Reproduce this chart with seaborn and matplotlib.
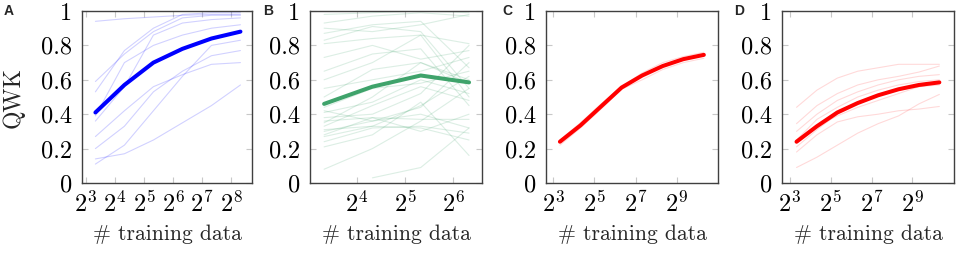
#!/usr/bin/env python3

import matplotlib
matplotlib.use('Agg')
import matplotlib.pyplot as plt
import matplotlib.ticker as mticker
import numpy as np
import pandas as pd
import seaborn as sns

SET_DPI = 100
FIGSIZE = (9.57, 2.54)

# training set sizes
X_AB = [10, 20, 40, 80, 160, 320]
X_B = [10, 20, 40, 80]
X_CD = [10, 20, 40, 80, 160, 320, 640, 1280]

# panel A
MEAN_A = [0.41, 0.57, 0.70, 0.78, 0.84, 0.88]
RUNS_A = [
    [0.94, 0.955, 0.965, 0.975, 0.98, 0.98],
    [0.59, 0.75, 0.88, 0.96, 0.975, 0.975],
    [0.53, 0.77, 0.90, 0.98, 0.99, 0.99],
    [0.39, 0.70, 0.80, 0.86, 0.90, 0.92],
    [0.36, 0.56, 0.86, 0.93, 0.95, 0.96],
    [0.27, 0.42, 0.56, 0.63, 0.69, 0.70],
    [0.20, 0.33, 0.53, 0.65, 0.74, 0.77],
    [0.14, 0.17, 0.25, 0.35, 0.45, 0.57],
    [0.11, 0.22, 0.42, 0.62, 0.80, 0.83],
]

# panel B
MEAN_B = [0.46, 0.56, 0.625, 0.585]
RUNS_B = [
    [0.98, 0.99, 1.00, 0.99],
    [0.93, 0.97, 0.99, 0.97],
    [0.87, 0.92, 0.94, 0.67],
    [0.83, 0.91, 0.88, 0.55],
    [0.81, 0.84, 0.86, 0.81],
    [0.73, 0.80, 0.72, 0.77],
    [0.60, 0.70, 0.86, 0.50],
    [0.55, 0.60, 0.65, 0.73],
    [0.50, 0.66, 0.70, 0.58],
    [0.44, 0.55, 0.58, 0.65],
    [0.41, 0.47, 0.60, 0.52],
    [0.38, 0.40, 0.52, 0.80],
    [0.36, 0.38, 0.37, 0.37],
    [0.33, 0.45, 0.56, 0.48],
    [0.30, 0.36, 0.40, 0.32],
    [0.27, 0.33, 0.45, 0.62],
    [0.24, 0.32, 0.33, 0.29],
    [0.21, 0.28, 0.47, 0.16],
    [0.08, 0.20, 0.36, 0.55],
    [0.31, 0.33, 0.32, 0.25],
    [0.35, 0.50, 0.70, 0.60],
    [0.65, 0.75, 0.78, 0.45],
    [0.42, 0.36, 0.44, 0.70],
    [0.28, 0.38, 0.30, 0.40],
    [0.90, 0.88, 0.92, 0.98],
    [np.nan, 0.03, 0.09, 0.32],
]

# panel C
MEAN_C = [0.24, 0.335, 0.445, 0.555, 0.625, 0.68, 0.72, 0.745]
RUNS_C = [
    [0.25, 0.35, 0.46, 0.56, 0.64, 0.70, 0.735, 0.76],
    [0.22, 0.32, 0.43, 0.545, 0.60, 0.66, 0.70, 0.725],
    [0.245, 0.34, 0.45, 0.55, 0.63, 0.68, 0.72, 0.74],
]

# panel D
MEAN_D = [0.24, 0.33, 0.41, 0.465, 0.51, 0.545, 0.57, 0.585]
RUNS_D = [
    [0.44, 0.54, 0.61, 0.65, 0.67, 0.69, 0.69, 0.69],
    [0.345, 0.45, 0.52, 0.57, 0.60, 0.62, 0.645, 0.68],
    [0.30, 0.40, 0.48, 0.53, 0.57, 0.60, 0.62, 0.63],
    [0.25, 0.37, 0.44, 0.50, 0.54, 0.57, 0.59, 0.60],
    [0.21, 0.31, 0.40, 0.46, 0.51, 0.54, 0.56, 0.57],
    [0.18, 0.28, 0.355, 0.385, 0.40, 0.42, 0.43, 0.445],
    [0.09, 0.15, 0.22, 0.29, 0.345, 0.39, 0.46, 0.515],
    [0.23, 0.33, 0.39, 0.44, 0.48, 0.52, 0.56, 0.58],
]

PANELS = [
    # letter, x, mean, runs, colour, run alpha, xlim (log2), xticks (log2), axes left px, letter x px
    ('A', X_AB, MEAN_A, RUNS_A, '#0000ff', 0.18, (2.86, 8.72), [3, 4, 5, 6, 7, 8], 82, 9),
    ('B', X_B, MEAN_B, RUNS_B, '#3fa36b', 0.18, (3.03, 6.59), [4, 5, 6], 310, 268),
    ('C', X_CD, MEAN_C, RUNS_C, '#ff0000', 0.15, (2.645, 11.01), [3, 5, 7, 9], 546, 507),
    ('D', X_CD, MEAN_D, RUNS_D, '#ff0000', 0.15, (2.61, 11.04), [3, 5, 7, 9], 782, 739),
]

sns.set_style('ticks')
plt.rcParams['font.family'] = ['cmr10']
plt.rcParams['mathtext.fontset'] = 'cm'
plt.rcParams['axes.formatter.use_mathtext'] = True

W, H = 957, 254
fig = plt.figure(figsize=FIGSIZE, dpi=SET_DPI)

for n, (letter, xs, mean, runs, col, alpha, xlim, xt, left, lx) in enumerate(PANELS):
    ax = fig.add_axes([left / W, (H - 183) / H, (170 if n == 0 else 172) / W, 172 / H])

    rows = []
    for r, run in enumerate(runs):
        for x, y in zip(xs, run):
            rows.append({'x': x, 'qwk': y, 'run': r})
    df = pd.DataFrame(rows).dropna()

    sns.lineplot(data=df, x='x', y='qwk', units='run', estimator=None,
                 color=col, alpha=alpha, lw=0.8, ax=ax)
    sns.lineplot(x=xs, y=mean, color=col, lw=2.9, ax=ax)

    ax.set_xscale('log', base=2)
    ax.set_xlim(2 ** xlim[0], 2 ** xlim[1])
    ax.set_xticks([2 ** t for t in xt])
    ax.xaxis.set_major_formatter(mticker.LogFormatterSciNotation(base=2))
    ax.xaxis.set_minor_locator(mticker.NullLocator())
    ax.set_ylim(0, 1)
    ax.set_yticks([0, 0.2, 0.4, 0.6, 0.8, 1])
    ax.yaxis.set_major_formatter(mticker.FuncFormatter(lambda v, p: f'{v:g}'))

    ax.tick_params(direction='in', top=True, right=True, length=4, width=0.8,
                   color='#c8c8c8', labelcolor='black', labelsize=17.5)
    ax.tick_params(axis='x', pad=6)
    ax.tick_params(axis='y', pad=7)
    for s in ax.spines.values():
        s.set_color('#404040')
        s.set_linewidth(1.0)

    ax.set_xlabel('# training data', fontsize=15.5, labelpad=5)
    if n == 0:
        ax.set_ylabel('QWK', fontsize=17, labelpad=12)
    else:
        ax.set_ylabel('')

    fig.text(lx / W, 1 - 11 / H, letter, fontsize=10, fontweight='bold',
             family='Liberation Sans', ha='center', va='center')

plt.savefig('out.png', dpi=SET_DPI)
